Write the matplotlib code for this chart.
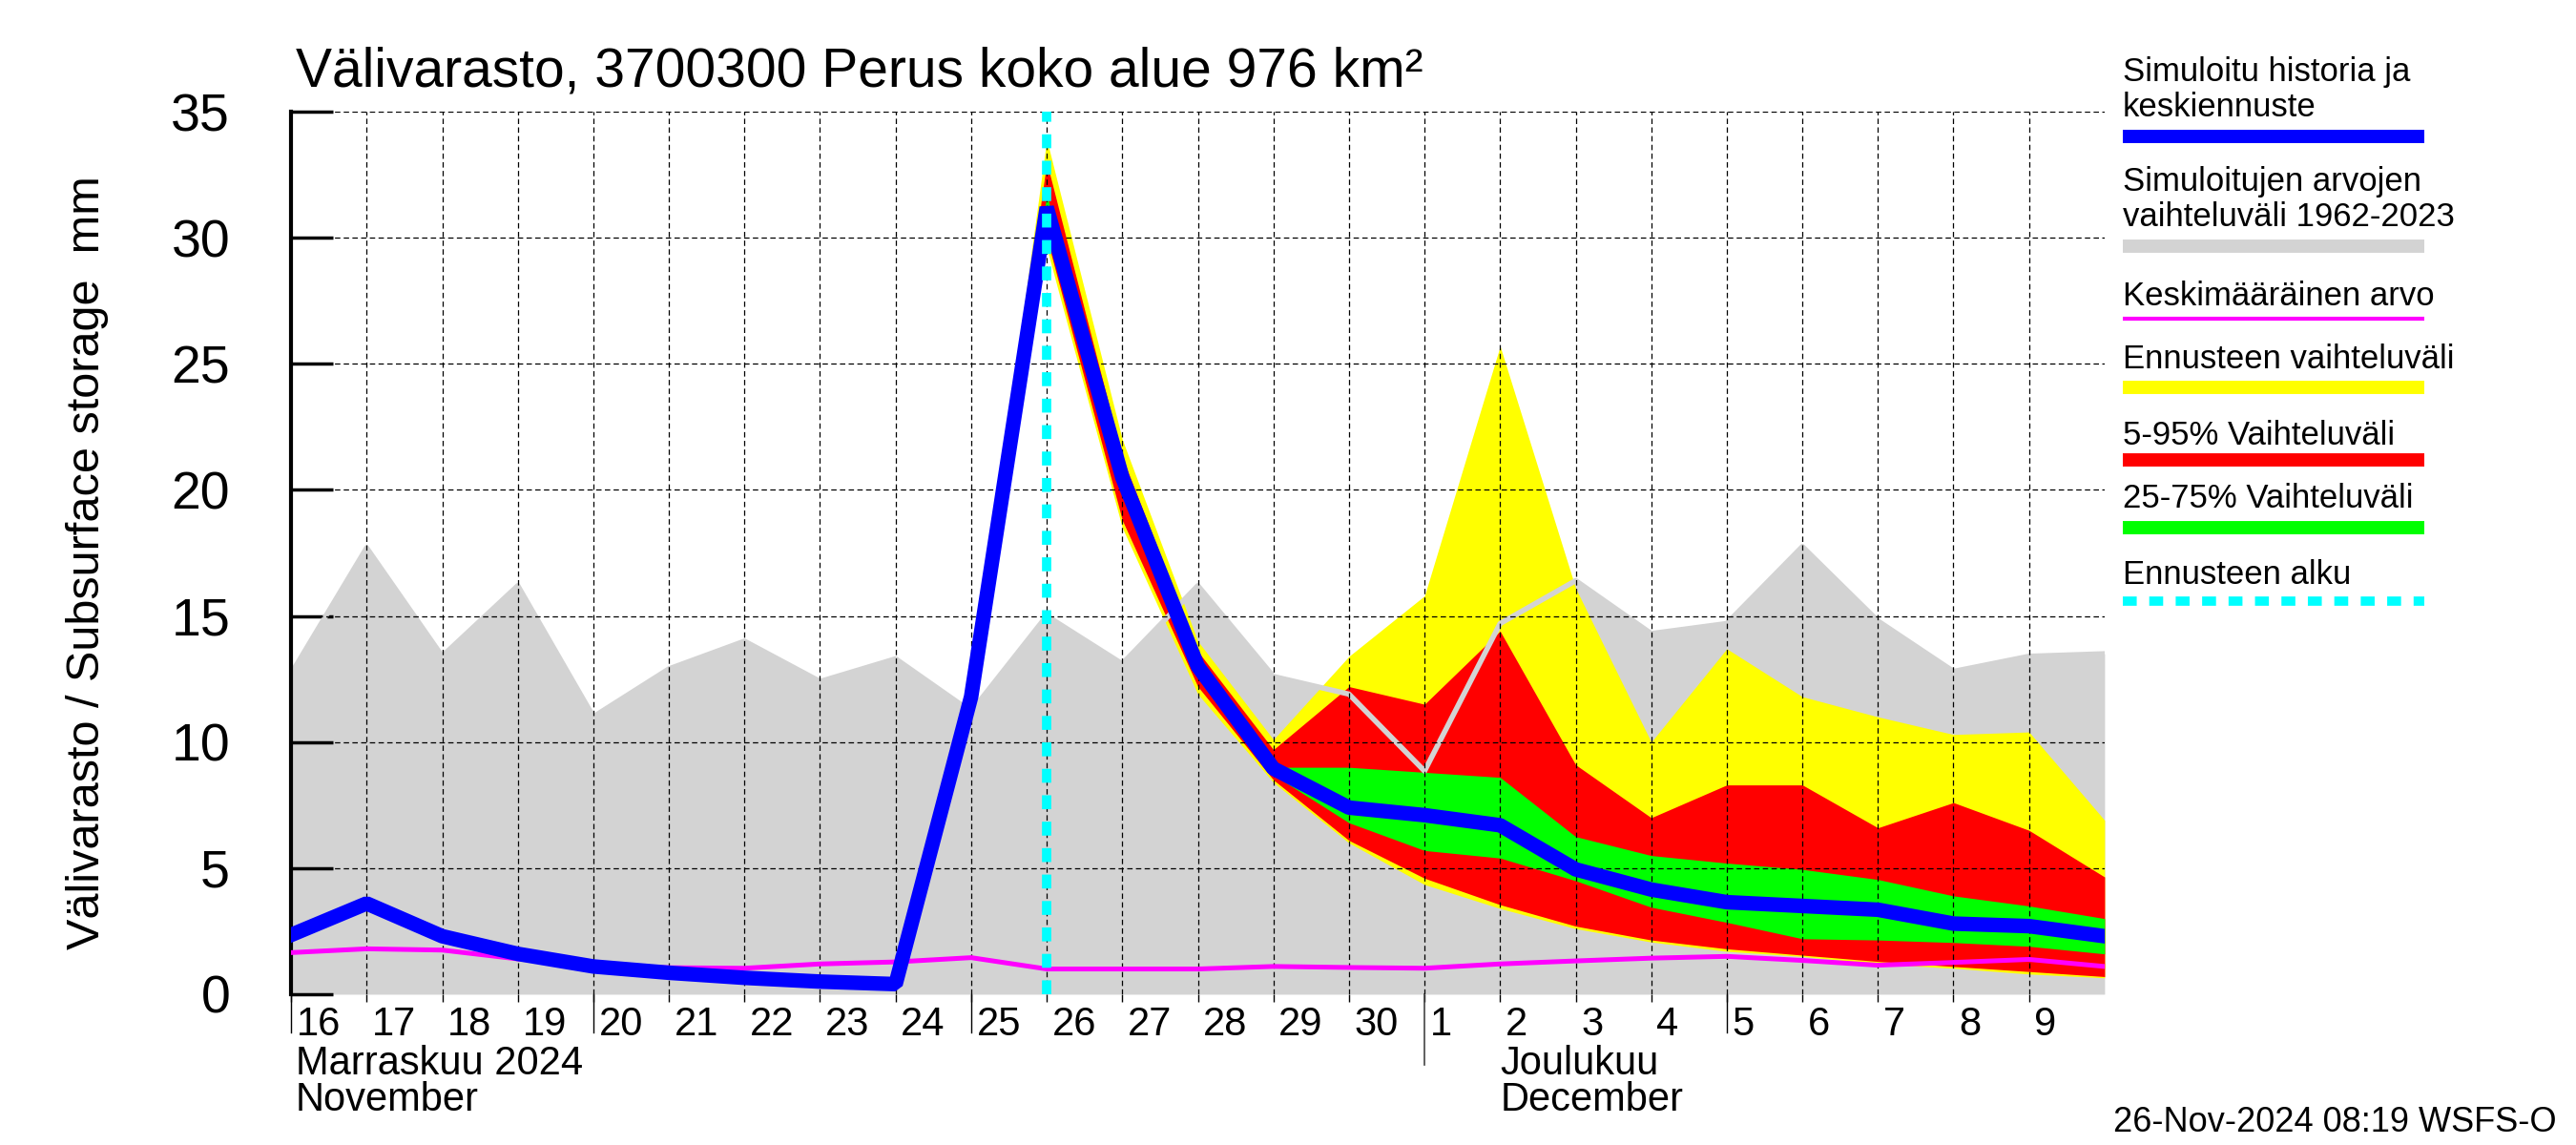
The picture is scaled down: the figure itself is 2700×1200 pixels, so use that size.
import matplotlib
matplotlib.use('Agg')
import matplotlib.pyplot as plt
import matplotlib.transforms as mtransforms
from matplotlib.lines import Line2D
import numpy as np

plt.rcParams['font.family'] = ['Liberation Sans', 'DejaVu Sans']

# päivät 16.11. - 10.12.2024
day_labels = ['16', '17', '18', '19', '20', '21', '22', '23', '24', '25', '26', '27', '28', '29', '30',
              '1', '2', '3', '4', '5', '6', '7', '8', '9', '10']
x = np.arange(len(day_labels))
fc_start = 9          # ennuste alkaa 25.11.
fc_line = 10          # ennusteen alku 26.11.

# simuloitujen arvojen vaihteluväli 1962-2023 (yläraja)
hist_max = [12.7, 17.7, 13.4, 16.2, 11.0, 12.9, 14.0, 12.4, 13.3, 11.2, 15.0, 13.1, 16.2,
            12.6, 11.9, 8.85, 14.7, 16.4, 14.3, 14.7, 17.75, 14.8, 12.8, 13.4, 13.5]
hist_min = [0.0] * len(hist_max)
# keskimääräinen arvo
mean_val = [1.65, 1.8, 1.75, 1.4, 1.13, 1.05, 1.03, 1.2, 1.28, 1.45, 1.0, 1.0, 1.0,
            1.1, 1.06, 1.03, 1.2, 1.32, 1.43, 1.5, 1.34, 1.15, 1.26, 1.38, 1.1]
# simuloitu historia ja keskiennuste
sim = [2.35, 3.6, 2.3, 1.6, 1.1, 0.85, 0.65, 0.5, 0.4, 11.8, 31.2, 20.5, 13.0,
       8.95, 7.4, 7.1, 6.7, 4.95, 4.15, 3.65, 3.5, 3.35, 2.8, 2.7, 2.3]

# ennusteen vaihteluvälit 25.11. alkaen
fc_max = [11.8, 33.9, 22.0, 14.0, 10.1, 13.4, 15.8, 25.7, 16.1, 10.0, 13.7, 11.8, 11.0, 10.3, 10.4, 6.9]
fc_p95 = [11.8, 33.0, 21.3, 13.6, 9.7, 12.2, 11.5, 14.4, 9.1, 7.0, 8.3, 8.3, 6.6, 7.6, 6.5, 4.65]
fc_p75 = [11.8, 31.7, 20.8, 13.2, 9.0, 9.0, 8.8, 8.6, 6.25, 5.5, 5.2, 4.95, 4.55, 3.9, 3.5, 3.0]
fc_p25 = [11.8, 30.8, 20.2, 12.8, 8.7, 6.8, 5.7, 5.4, 4.5, 3.45, 2.85, 2.2, 2.15, 2.05, 1.9, 1.6]
fc_p05 = [11.8, 30.0, 18.8, 12.2, 8.5, 6.1, 4.6, 3.55, 2.7, 2.15, 1.8, 1.55, 1.3, 1.1, 0.9, 0.7]
fc_min = [11.8, 29.6, 18.5, 11.9, 8.4, 6.0, 4.35, 3.4, 2.6, 2.07, 1.7, 1.5, 1.2, 1.03, 0.8, 0.65]

y_ticks = [0, 5, 10, 15, 20, 25, 30, 35]

legend_items = [
    ('Simuloitu historia ja\nkeskiennuste', '#0000ff', 10, '-'),
    ('Simuloitujen arvojen\nvaihteluväli 1962-2023', '#d3d3d3', 10, '-'),
    ('Keskimääräinen arvo', '#ff00ff', 3, '-'),
    ('Ennusteen vaihteluväli', '#ffff00', 10, '-'),
    ('5-95% Vaihteluväli', '#ff0000', 10, '-'),
    ('25-75% Vaihteluväli', '#00ff00', 10, '-'),
    ('Ennusteen alku', '#00ffff', 7, (0, (1.5, 1.35))),
]

fig = plt.figure(figsize=(27, 12), dpi=100)
ax = fig.add_axes([0.113, 0.1317, 0.704, 0.7708])

xf = x[fc_start:]
ax.fill_between(x, hist_min, hist_max, color='#d3d3d3', lw=0, zorder=1)
ax.fill_between(xf, fc_min, fc_max, color='#ffff00', lw=0, zorder=2)
ax.fill_between(xf, fc_p05, fc_p95, color='#ff0000', lw=0, zorder=2.1)
ax.fill_between(xf, fc_p25, fc_p75, color='#00ff00', lw=0, zorder=2.2)
ax.plot(x, hist_max, color='#d3d3d3', lw=4, zorder=2.3)

# ruudukko
grid_style = dict(color='black', lw=0.9, ls=(0, (4.5, 2.8)), zorder=2.5)
for xi in x[1:-1]:
    ax.axvline(xi, **grid_style)
for yi in y_ticks[1:]:
    ax.axhline(yi, **grid_style)

ax.plot(x, mean_val, color='#ff00ff', lw=3.6, zorder=3)
ax.plot(x, sim, color='#0000ff', lw=11, zorder=4, solid_joinstyle='bevel')
ax.axvline(x[fc_line], color='#00ffff', lw=7, ls=(0, (1.5, 1.35)), zorder=5)

ax.set_xlim(x[0], x[-1])
ax.set_ylim(0, 35)
for s in ['top', 'right', 'bottom']:
    ax.spines[s].set_visible(False)
ax.spines['left'].set_linewidth(3)

ax.set_yticks(y_ticks)
ax.set_yticklabels([str(v) for v in y_ticks])
ax.tick_params(axis='y', direction='in', length=32, width=2.5, pad=46, labelsize=40)

ax.set_xticks(x[:-1])
ax.set_xticklabels(day_labels[:-1], ha='left')
ax.tick_params(axis='x', direction='out', length=6, width=1, pad=3, labelsize=30)
offset = mtransforms.ScaledTranslation(4 / 72, 0, fig.dpi_scale_trans)
for lab in ax.get_xticklabels():
    lab.set_transform(lab.get_transform() + offset)

# pidemmät tikit ja kuukauden raja
xt = ax.get_xaxis_transform()
for i, lab in enumerate(day_labels):
    if lab in ('16', '5', '20', '25'):
        ax.plot([x[i], x[i]], [0, -0.043], color='black', lw=1, transform=xt, clip_on=False)
month_idx = day_labels.index('1')
ax.plot([x[month_idx], x[month_idx]], [0, -0.08], color='#444444', lw=1.2, transform=xt, clip_on=False)

ax.text(x[0] + 0.06, -0.079, 'Marraskuu 2024', transform=xt, fontsize=30, va='center', ha='left')
ax.text(x[0] + 0.06, -0.12, 'November', transform=xt, fontsize=30, va='center', ha='left')
ax.text(x[month_idx + 1], -0.079, 'Joulukuu', transform=xt, fontsize=30, va='center', ha='left')
ax.text(x[month_idx + 1], -0.12, 'December', transform=xt, fontsize=30, va='center', ha='left')

fig.text(0.1148, 0.925, 'Välivarasto, 3700300 Perus koko alue 976 km²', fontsize=41,
         ha='left', va='baseline')
fig.text(0.034, 0.509, 'Välivarasto / Subsurface storage  mm', fontsize=35, rotation=90,
         ha='center', va='center')
fig.text(0.9926, 0.02, '26-Nov-2024 08:19 WSFS-O', fontsize=26, ha='right', va='center')

# selite
text_y = [1 - 94 / 1200, 1 - 209 / 1200, 1 - 310 / 1200, 1 - 377 / 1200,
          1 - 456 / 1200, 1 - 522 / 1200, 1 - 603 / 1200]
line_y = [143, 258, 334, 406, 482, 553, 630]
for (label, col, lw, ls), ty, ly in zip(legend_items, text_y, line_y):
    fig.text(2225 / 2700, ty, label, fontsize=25, ha='left', va='center', linespacing=1.15)
    fig.add_artist(Line2D([2225 / 2700, 2541 / 2700], [1 - ly / 1200] * 2, color=col, lw=lw,
                          ls=ls, solid_capstyle='butt', dash_capstyle='butt',
                          transform=fig.transFigure))

fig.savefig('out.png', dpi=100)
plt.close(fig)
